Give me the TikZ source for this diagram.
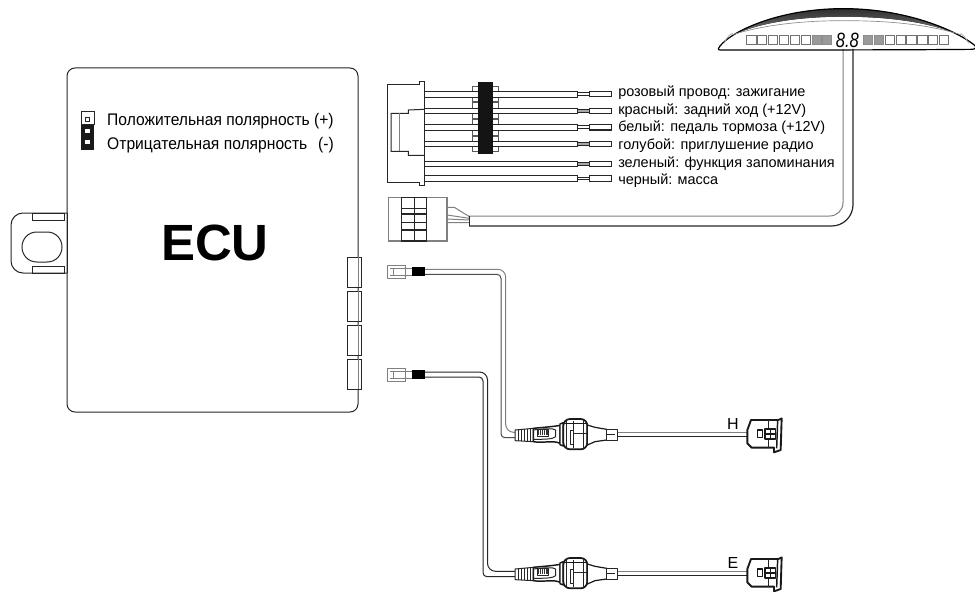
\documentclass[tikz,border=0pt]{standalone}
\usepackage{fontspec}
\setmainfont{Liberation Sans}
\tikzset{
  ln/.style={line width=0.75pt,draw=black!85},
  hv/.style={line width=1.1pt,draw=black!90},
  gln/.style={line width=0.75pt,draw=black!50},
  lbl/.style={anchor=base west,inner sep=0pt,font=\fontsize{10.85pt}{12pt}\selectfont},
  pol/.style={anchor=base west,inner sep=0pt,xscale=0.93,font=\fontsize{12.6pt}{14pt}\selectfont},
  zoomed/.style={x=0.25pt,y=-0.25pt},
  segw/.style={draw=black!55,line width=0.5pt,fill=white},
  segg/.style={draw=black!45,line width=0.5pt,fill=black!40},
}
\newcommand{\loomwire}[2]{%
  \draw[ln,fill=white] (148,#1) rectangle (608,#1+17);
  \draw[ln,fill=#2] (608,#1+4) rectangle (643,#1+12);
  \draw[ln,fill=white] (643,#1) rectangle (708,#1+16);
}
\newcommand{\lug}[2]{%
  \draw[ln,draw=black!65,fill=white] (292,#1) rectangle (370,#2);
}
\newcommand{\smallplug}[2]{%
  \begin{scope}[shift={(#1,#2)},zoomed]
    \draw[gln,fill=white] (158,46) rectangle (210,84);
    \draw[gln] (175,54) -- (175,75) (165,54) -- (210,54) (165,75) -- (210,75);
    \draw[gln,fill=white] (210,55) rectangle (232,75);
    \fill[black] (232,52) rectangle (270,77);
  \end{scope}
}
\newcommand{\sensorunit}[2]{%
  \begin{scope}[shift={(#1,#2)},zoomed,line join=round]
    \draw[gln] (383,97) -- (772,97);
    \draw[ln] (383,110) -- (772,110);
    % grip
    \draw[ln,fill=white] (75,90) -- (130,85) -- (130,125) -- (75,122) -- cycle;
    \foreach \gx in {84,93,102,111,120}{\draw[ln] (\gx,88) -- (\gx,124);}
    % body
    \draw[hv,fill=white] (130,85) .. controls (160,82) and (190,80) .. (210,76) -- (210,130) .. controls (190,120) and (160,130) .. (130,125) -- cycle;
    \draw[ln] (130,118) .. controls (160,118) and (190,118) .. (197,110) -- (197,90) .. controls (190,84) and (160,86) .. (130,90);
    \draw[ln,fill=white] (142,88) rectangle (175,108);
    \fill[black!80] (143,90) rectangle (173,106);
    \foreach \wx in {149,155,161,167}{\draw[white,line width=0.6pt] (\wx,90) -- (\wx,106);}
    % flange
    \draw[hv,fill=white] (210,72) -- (220,68) -- (220,138) -- (210,134) -- cycle;
    % nut
    \draw[hv,line width=1.3pt,fill=white,rounded corners=5pt] (220,57) rectangle (292,148);
    \draw[ln] (228,60) -- (228,146) (250,62) -- (250,145) (280,60) -- (280,146);
    \draw[hv] (222,70) -- (290,70);
    \draw[ln] (250,100) -- (290,100);
    \draw[ln] (240,90) rectangle (250,132);
    % taper and tip
    \draw[hv,line width=0.9pt,fill=white] (292,75) -- (315,82) -- (350,88) -- (350,120) -- (315,125) -- (292,135) -- cycle;
    \draw[ln,fill=white] (350,88) rectangle (383,120);
    \draw[ln] (350,104) -- (375,104);
    % sensor head
    \draw[hv,line width=1.4pt,fill=white] (772,90) -- (783,60) -- (865,60) -- (875,55) -- (872,150) -- (852,157) -- (852,143) -- (785,143) -- (772,130) -- cycle;
    \draw[hv] (863,60) -- (860,145);
    \draw[ln] (835,61) -- (835,143);
    \draw[hv] (802,90) rectangle (818,112);
    \draw[hv,line width=1.2pt,fill=white] (825,87) rectangle (857,117);
    \draw[hv] (841,87) -- (841,117) (825,102) -- (857,102);
  \end{scope}
}
\begin{document}
\begin{tikzpicture}[x=0.75pt,y=-0.75pt]
\useasboundingbox (0,0) rectangle (975,592);

% ---- ECU housing
\draw[ln,rounded corners=6pt,fill=white] (67,68) -- (358,68) -- (358,412) -- (67,412) -- cycle;
\node[inner sep=0pt,anchor=base,font=\fontsize{38.2pt}{40pt}\selectfont\bfseries] (ecu) at (215,260) {ECU};
% mounting ear
\draw[ln,rounded corners=9pt] (67,213) -- (11,213) -- (11,273) -- (67,273);
\draw[ln] (67,213) -- (67,273);
\draw[ln] (37,232) -- (47,232) .. controls (56,232) and (62,239) .. (62,247) .. controls (62,255) and (56,262) .. (47,262) -- (37,262) .. controls (28,262) and (22,255) .. (22,247) .. controls (22,239) and (28,232) .. (37,232) -- cycle;
\draw[ln] (32,213) rectangle (64,220);
\draw[ln] (32,266) rectangle (64,273);
% ECU ports
\foreach \ya/\yb in {257/287,291/321,325/355,359/389}{
  \draw[ln,fill=white] (347,\ya) rectangle (361,\yb);
  \draw[gln] (358,\ya) -- (358,\yb);
}
% jumper
\fill[black!90] (81,125) rectangle (94,150);
\draw[ln,fill=white] (81,112) rectangle (94,125);
\draw[ln,fill=white] (85,118) rectangle (89.5,122);
\fill[white] (85,129) rectangle (89.5,133);
\fill[white] (85,140) rectangle (89.5,144);
\node[pol] (polplus) at (107,126) {Положительная полярность (+)};
\node[pol] (polminus) at (107,149) {Отрицательная полярность\hspace{0.7em}(-)};

% ---- power loom connector
\begin{scope}[shift={(375,70)},zoomed]
  \lug{50}{65}\lug{82}{95}\lug{99}{115}\lug{132}{146}\lug{148}{164}\lug{181}{195}\lug{198}{213}\lug{230}{243}
  \loomwire{65}{white}
  \loomwire{115}{black!35}
  \loomwire{164}{white}
  \loomwire{213}{black!35}
  \loomwire{273}{black!35}
  \loomwire{317}{white}
  \fill[black!92] (309,36) rectangle (354,251);
  \draw[ln,fill=white] (38,43) -- (132,43) -- (132,35) -- (148,35) -- (148,347) -- (132,347) -- (132,337) -- (38,337) -- cycle;
  \draw[ln] (148,118) -- (100,120) -- (100,130) -- (48,130) -- (48,244) -- (100,244) -- (100,256) -- (148,256);
  \draw[gln] (74,130) -- (74,244);
  % lower connector
  \draw[gln,line width=1pt] (40,383) rectangle (216,513);
  \draw[ln,line width=1pt] (80,383) rectangle (155,513);
  \draw[ln,line width=1pt] (118,383) -- (118,513) (80,415) -- (155,415) (80,432) -- (155,432) (80,458) -- (155,458) (80,480) -- (155,480);
  \draw[gln] (216,412) -- (238,412) -- (283,440) (216,435) -- (283,445) (216,447) -- (283,450) (216,458) -- (283,458);
\end{scope}
% display cable
\draw[gln,rounded corners=10pt] (469,216) -- (843,216) -- (843,49);
\draw[ln,line width=0.9pt,rounded corners=16pt] (469,226) -- (853,226) -- (853,49);
\draw[ln] (469,216) -- (469,226);

% ---- wire labels
\node[lbl] (w1) at (618,97) {розовый провод: зажигание};
\node[lbl] (w2) at (618,114) {красный: задний ход (+12V)};
\node[lbl] (w3) at (618,132) {белый: педаль тормоза (+12V)};
\node[lbl] (w4) at (618,149) {голубой: приглушение радио};
\node[lbl] (w5) at (618,167) {зеленый: функция запоминания};
\node[lbl] (w6) at (618,184) {черный: масса};

% ---- display
\begin{scope}[shift={(700,0)},zoomed]
  \begin{scope}
    \clip (55,146) .. controls (75,105) and (220,26) .. (430,26) .. controls (640,26) and (790,105) .. (826,138) -- (826,150) -- (55,150) -- cycle;
    \fill[top color=black!90,bottom color=black!50] (80,115) .. controls (170,65) and (310,50) .. (430,50) .. controls (560,50) and (700,65) .. (800,115) -- (800,0) -- (80,0) -- cycle;
  \end{scope}
  \draw[black,line width=0.9pt,line join=round] (55,146) .. controls (75,105) and (220,26) .. (430,26) .. controls (640,26) and (790,105) .. (826,138) .. controls (830,144) and (826,148) .. (818,148) .. controls (600,150) and (250,150) .. (62,150) .. controls (57,150) and (54,149) .. (55,146) -- cycle;
  \draw[draw=black!45,line width=0.5pt] (98,104) .. controls (200,72) and (320,62) .. (430,62) .. controls (560,62) and (680,72) .. (782,104);
  \draw[draw=black!35,line width=0.5pt] (72,130) .. controls (85,105) and (90,102) .. (98,100);
  \draw[draw=black!35,line width=0.5pt] (806,130) .. controls (795,110) and (790,106) .. (782,100);
  \foreach \sx in {140,172,205,237,270,303,555,588,620,653,685,717}{\draw[segw] (\sx,105) rectangle +(28,27);}
  \foreach \sx in {337,368,490,522}{\draw[segg] (\sx,105) rectangle +(27,27);}
  \node[inner sep=0pt,font=\fontsize{15.5pt}{16pt}\selectfont\itshape,xscale=0.8] (digits) at (442,120) {8.8};
\end{scope}

% ---- small plugs and cables
\draw[gln,rounded corners=6pt] (425,269.3) -- (505.7,269.3) -- (505.7,432.3) -- (515,432.3);
\draw[gln,draw=black!70,rounded corners=3pt] (425,274.3) -- (501,274.3) -- (501,437.7) -- (515,437.7);
\draw[ln,rounded corners=6pt] (425,372) -- (487.5,372) -- (487.5,571.3) -- (515,571.3);
\draw[ln,rounded corners=3pt] (425,377) -- (483,377) -- (483,576.7) -- (515,576.7);
\smallplug{335}{250}
\smallplug{335}{353}
\sensorunit{490}{400}
\sensorunit{490}{539}
\node[inner sep=0pt,anchor=base,font=\fontsize{12pt}{14pt}\selectfont] (hlabel) at (733,429) {H};
\node[inner sep=0pt,anchor=base,font=\fontsize{12pt}{14pt}\selectfont] (elabel) at (733,568) {E};
\end{tikzpicture}
\end{document}
